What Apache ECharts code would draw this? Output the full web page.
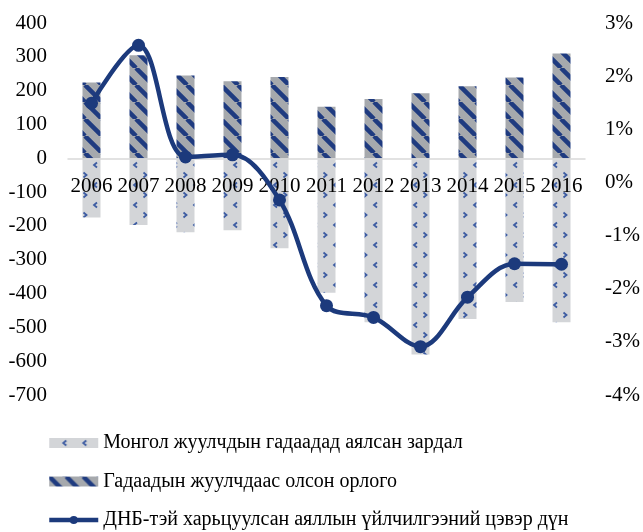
<!DOCTYPE html>
<html><head><meta charset="utf-8">
<script src="https://cdn.jsdelivr.net/npm/echarts@6/dist/echarts.min.js"></script>
<style>html,body{margin:0;padding:0;background:#fff}#c{width:643px;height:532px}</style>
</head><body><div id="c"></div>
<script>
const years = ['2006','2007','2008','2009','2010','2011','2012','2013','2014','2015','2016'];
const outboundSpending = [-175,-197,-219,-213,-266,-398,-485,-580,-475,-425,-485];
const inboundRevenue = [224,305,245,228,240,152,175,192,213,239,310];
const netServiceToGdp = [1.49,2.58,0.48,0.52,-0.33,-2.32,-2.54,-3.09,-2.16,-1.53,-1.54];
const seriesNames = [
  'Монгол жуулчдын гадаадад аялсан зардал',
  'Гадаадын жуулчдаас олсон орлого',
  'ДНБ-тэй харьцуулсан аяллын үйлчилгээний цэвэр дүн'
];

function stripePattern(){
  const s = 17, c = document.createElement('canvas');
  c.width = s; c.height = s;
  const g = c.getContext('2d');
  g.fillStyle = '#a6a9ad'; g.fillRect(0,0,s,s);
  g.strokeStyle = '#1f3b80'; g.lineWidth = 4.5;
  g.beginPath();
  for (const k of [-1,0,1]) { g.moveTo(k*s, 0); g.lineTo(k*s + s, s); }
  g.stroke();
  return c;
}
function chevronPattern(){
  const s = 20, c = document.createElement('canvas');
  c.width = s; c.height = s;
  const g = c.getContext('2d');
  g.fillStyle = '#d3d5d8'; g.fillRect(0,0,s,s);
  g.strokeStyle = '#3d5ca2'; g.lineWidth = 1.8;
  g.beginPath();
  g.moveTo(17,2.5); g.lineTo(14,5); g.lineTo(17,7.5);
  g.moveTo(3.5,12.5); g.lineTo(6.5,15); g.lineTo(3.5,17.5);
  g.stroke();
  return c;
}

const font = 'Liberation Serif';
const yMin = -700, yMax = 400;
const gridTop = 23, gridBottom = 137, chartH = 532;
const gridH = chartH - gridTop - gridBottom;
const chart = echarts.init(document.getElementById('c'));
chart.setOption({
  animation: false,
  textStyle: { fontFamily: font },
  grid: { left: 68, right: 56, top: gridTop, bottom: gridBottom },
  legend: {
    orient: 'vertical', left: 47, top: 433, padding: 0,
    itemWidth: 49, itemHeight: 10, itemGap: 18.5,
    textStyle: { fontFamily: font, fontSize: 20, lineHeight: 20, color: '#000' },
    data: [
      { name: seriesNames[0], icon: 'rect' },
      { name: seriesNames[1], icon: 'rect' },
      { name: seriesNames[2], lineStyle: { width: 4.5, color: '#1c3a7c' } }
    ]
  },
  xAxis: {
    type: 'category', data: years, z: 3,
    axisLine: { onZero: false, lineStyle: { color: '#d9d9d9', width: 1.5 } },
    offset: -gridH * (0 - yMin) / (yMax - yMin),
    axisTick: { show: false },
    axisLabel: { interval: 0, margin: 18, fontSize: 21, color: '#000', fontFamily: font }
  },
  yAxis: [
    { type: 'value', min: yMin, max: yMax, interval: 100,
      splitLine: { show: false }, axisLine: { show: false }, axisTick: { show: false },
      axisLabel: { fontSize: 21, color: '#000', margin: 21, fontFamily: font } },
    { type: 'value', min: -4, max: 3, interval: 1,
      splitLine: { show: false }, axisLine: { show: false }, axisTick: { show: false },
      axisLabel: { fontSize: 21, color: '#000', margin: 20, fontFamily: font, formatter: '{value}%' } }
  ],
  series: [
    { name: seriesNames[0], type: 'bar', data: outboundSpending, barWidth: 18, barGap: '-100%', z: 2,
      itemStyle: { color: { image: chevronPattern(), repeat: 'repeat' } } },
    { name: seriesNames[1], type: 'bar', data: inboundRevenue, barWidth: 18, barGap: '-100%', z: 2,
      itemStyle: { color: { image: stripePattern(), repeat: 'repeat' } } },
    { name: seriesNames[2], type: 'line', yAxisIndex: 1, data: netServiceToGdp, smooth: 0.35, z: 5,
      symbol: 'circle', symbolSize: 13,
      lineStyle: { color: '#1c3a7c', width: 4.5 },
      itemStyle: { color: '#1c3a7c' } }
  ]
});
</script>
</body></html>
